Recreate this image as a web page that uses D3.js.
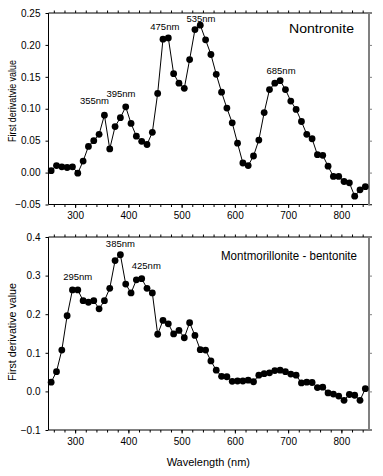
<!DOCTYPE html>
<html><head><meta charset="utf-8">
<script src="https://cdn.jsdelivr.net/npm/d3@7"></script>
<style>body{margin:0;background:#fff}svg{display:block}text{font-family:"Liberation Sans",Arial,sans-serif;fill:#000}</style>
</head><body>
<svg id="c" width="383" height="476"></svg>
<script>
const wavelengths = [255,265,275,285,295,305,315,325,335,345,355,365,375,385,395,405,415,425,435,445,455,465,475,485,495,505,515,525,535,545,555,565,575,585,595,605,615,625,635,645,655,665,675,685,695,705,715,725,735,745,755,765,775,785,795,805,815,825,835,845];
const nontronite = [0.003,0.011,0.009,0.008,0.009,-0.001,0.018,0.041,0.050,0.060,0.090,0.037,0.072,0.086,0.103,0.077,0.057,0.049,0.044,0.063,0.124,0.209,0.211,0.155,0.140,0.132,0.177,0.224,0.231,0.208,0.185,0.154,0.126,0.101,0.078,0.046,0.015,0.011,0.026,0.051,0.094,0.130,0.140,0.144,0.130,0.112,0.099,0.080,0.060,0.053,0.028,0.027,0.010,-0.006,-0.006,-0.014,-0.016,-0.037,-0.027,-0.022];
const montmorillonite = [0.024,0.051,0.107,0.196,0.263,0.263,0.235,0.231,0.235,0.214,0.235,0.267,0.339,0.354,0.278,0.255,0.289,0.292,0.267,0.255,0.148,0.184,0.175,0.149,0.158,0.139,0.178,0.145,0.108,0.107,0.079,0.055,0.039,0.038,0.026,0.027,0.027,0.029,0.025,0.042,0.046,0.048,0.054,0.055,0.051,0.045,0.042,0.022,0.024,0.023,0.010,0.011,-0.004,-0.007,-0.012,-0.023,-0.008,-0.010,-0.023,0.007];
const xTicks = [300,400,500,600,700,800];
const xMinorTicks = [260,280,300,320,340,360,380,400,420,440,460,480,500,520,540,560,580,600,620,640,660,680,700,720,740,760,780,800,820,840];
const yTicksTop = [-0.05,0.00,0.05,0.10,0.15,0.20,0.25];
const yTicksBottom = [-0.1,0.0,0.1,0.2,0.3,0.4];
const peaksTop = [355,395,475,535,685];
const peaksBottom = [295,385,425];
const titleTop = "Nontronite";
const titleBottom = "Montmorillonite - bentonite";
const yLabelTop = "First derivatvie value";
const yLabelBottom = "First derivative value";
const xLabel = "Wavelength (nm)";

const svg = d3.select("#c");
const x = d3.scaleLinear().domain([250,850]).range([48.5,368]);

function panel(cfg){
  const y = d3.scaleLinear().domain(cfg.domain).range([cfg.bottom, cfg.top]);
  const g = svg.append("g");
  g.append("g").attr("transform",`translate(0,${cfg.bottom})`)
    .call(d3.axisBottom(x).tickValues(xMinorTicks).tickSize(2.5).tickFormat(""))
    .call(a=>a.select(".domain").remove());
  g.append("g").attr("transform",`translate(0,${cfg.top})`)
    .call(d3.axisTop(x).tickValues(xMinorTicks).tickSize(2.5).tickFormat(""))
    .call(a=>a.select(".domain").remove());
  const xb = g.append("g").attr("transform",`translate(0,${cfg.bottom})`)
    .call(d3.axisBottom(x).tickValues(xTicks).tickSize(3.5).tickPadding(4).tickFormat(d3.format("d")));
  xb.select(".domain").remove();
  xb.selectAll("text").attr("font-size",10).style("font-family","Liberation Sans, Arial, sans-serif");
  g.append("line").attr("x1",x(250)).attr("x2",x(850)+4).attr("y1",cfg.bottom).attr("y2",cfg.bottom).attr("stroke","#000");
  g.append("line").attr("x1",x(250)).attr("x2",x(850)+4).attr("y1",cfg.top).attr("y2",cfg.top).attr("stroke","#000");
  const yl = g.append("g").attr("transform",`translate(${x(250)},0)`)
    .call(d3.axisLeft(y).tickValues(cfg.yTicks).tickSize(3).tickPadding(5).tickFormat(d3.format(cfg.fmt)));
  yl.select(".domain").attr("d",`M0,${cfg.top}V${cfg.bottom}`);
  yl.selectAll("text").attr("font-size",10).style("font-family","Liberation Sans, Arial, sans-serif");
  const yr = g.append("g").attr("transform",`translate(${x(850)+1},0)`)
    .call(d3.axisRight(y).tickValues(cfg.yTicks).tickSize(3).tickFormat(""));
  yr.select(".domain").attr("d",`M0,${cfg.top}V${cfg.bottom+1}`).attr("stroke","#808080").attr("stroke-width",2);
  yr.selectAll(".tick line").attr("stroke","#808080");
  const pts = wavelengths.map((w,i)=>[w,cfg.values[i]]);
  g.append("path").datum(pts).attr("fill","none").attr("stroke","#000").attr("stroke-width",1)
    .attr("d",d3.line().x(d=>x(d[0])).y(d=>y(d[1])));
  g.selectAll("circle").data(pts).join("circle")
    .attr("cx",d=>x(d[0])).attr("cy",d=>y(d[1])).attr("r",3.4).attr("fill","#000");
  cfg.peaks.forEach((p,i)=>{
    const v = cfg.values[wavelengths.indexOf(p)];
    g.append("text").attr("x",x(p)+cfg.peakDx[i]).attr("y",y(v)-cfg.peakDy[i])
      .attr("text-anchor","middle").attr("font-size",9.5).text(p+"nm");
  });
  g.append("text").attr("x",cfg.titleX).attr("y",cfg.titleY).attr("font-size",13.5)
    .attr("textLength",cfg.titleLen).attr("lengthAdjust","spacingAndGlyphs").text(cfg.title);
  g.append("text").attr("transform",`translate(16,${cfg.yLabelC}) rotate(-90)`).attr("text-anchor","middle")
    .attr("font-size",11).attr("textLength",cfg.yLabelLen).attr("lengthAdjust","spacingAndGlyphs").text(cfg.yLabel);
}

panel({domain:[-0.05,0.25],top:13,bottom:204.5,values:nontronite,yTicks:yTicksTop,fmt:".2f",
  peaks:peaksTop,peakDx:[-10,-4.7,-3.5,0.7,0.9],peakDy:[11.4,9.4,7.4,3.6,7],
  title:titleTop,titleX:289,titleY:33,titleLen:65,yLabel:yLabelTop,yLabelC:101,yLabelLen:82});
panel({domain:[-0.1,0.4],top:237,bottom:430,values:montmorillonite,yTicks:yTicksBottom,fmt:".1f",
  peaks:peaksBottom,peakDx:[5.2,0,4.6],peakDy:[9.9,7.5,9.4],
  title:titleBottom,titleX:221,titleY:260,titleLen:136,yLabel:yLabelBottom,yLabelC:332,yLabelLen:98});
svg.append("text").attr("x",208.3).attr("y",466).attr("text-anchor","middle").attr("font-size",11).text(xLabel);
</script>
</body></html>
